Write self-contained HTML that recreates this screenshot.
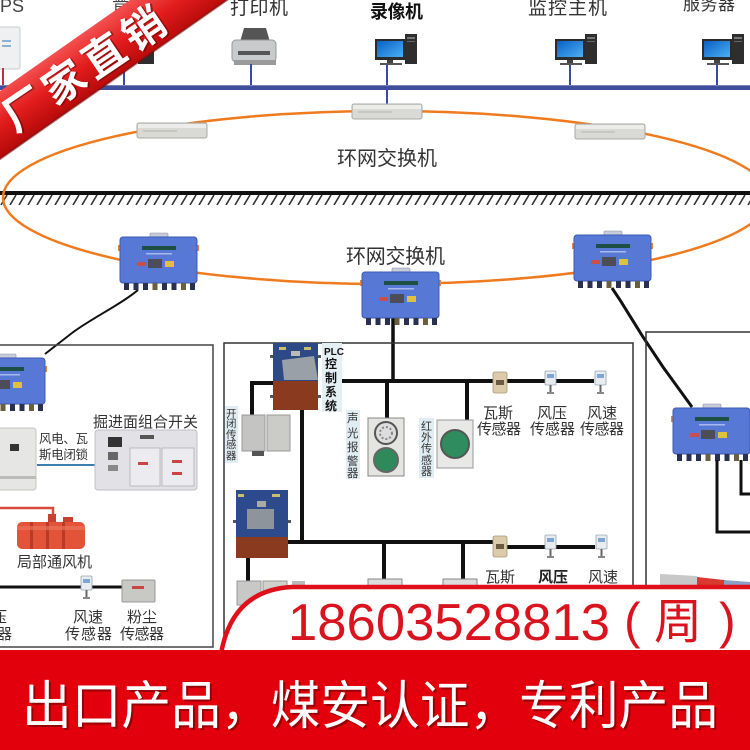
<!DOCTYPE html>
<html><head><meta charset="utf-8">
<style>
html,body{margin:0;padding:0;background:#fff;}
svg{display:block;}
text{font-family:"Liberation Sans","Noto Sans CJK SC",sans-serif;}
</style></head><body>
<svg width="750" height="750" viewBox="0 0 750 750" xmlns="http://www.w3.org/2000/svg">
<defs>
 <linearGradient id="scr" x1="0" y1="0" x2="1" y2="1"><stop offset="0" stop-color="#0b5fc4"/><stop offset="1" stop-color="#4ab0f5"/></linearGradient>
 <linearGradient id="rib" gradientUnits="userSpaceOnUse" x1="65" y1="45" x2="97" y2="92"><stop offset="0" stop-color="#f45050"/><stop offset="0.5" stop-color="#e21c1c"/><stop offset="1" stop-color="#b50a0a"/></linearGradient>
 <pattern id="hatch" x="0" y="195" width="9" height="10" patternUnits="userSpaceOnUse"><path d="M1,10 L7,0" stroke="#333" stroke-width="1.6"/></pattern>
 <g id="pc">
   <rect x="0" y="5" width="30" height="21" fill="#2b2b2b"/>
   <rect x="2" y="7" width="26" height="16" fill="url(#scr)"/>
   <rect x="12" y="26" width="6" height="3" fill="#444"/>
   <rect x="5" y="29" width="22" height="2" fill="#555"/>
   <rect x="30" y="0" width="12" height="30" fill="#2e2e2e"/>
   <rect x="32" y="3" width="8" height="2" fill="#777"/>
   <rect x="32" y="7" width="8" height="1" fill="#666"/>
 </g>
 <g id="sw">
   <rect x="0" y="0" width="70" height="15" rx="2" fill="#d9d9d5" stroke="#a9a9a5"/>
   <rect x="1" y="1" width="68" height="4" fill="#ececea"/>
   <line x1="6" y1="8" x2="40" y2="8" stroke="#b5b5b0" stroke-width="1"/>
 </g>
 <g id="bb">
   <rect x="30" y="-4" width="18" height="5" rx="1" fill="#c8ccd8" stroke="#8890a8" stroke-width="0.6"/>
   <rect x="-2" y="8" width="4" height="6" fill="#e08a40"/>
   <rect x="75" y="8" width="4" height="6" fill="#e08a40"/>
   <rect x="0" y="0" width="77" height="46" rx="3" fill="#5878d6" stroke="#3c58b4" stroke-width="1"/>
   <rect x="22" y="9" width="34" height="4" fill="#1d4f44"/>
   <rect x="26" y="16" width="26" height="1.5" fill="#a8b8ea"/>
   <rect x="17" y="25" width="9" height="4" fill="#c9504a"/>
   <rect x="28" y="22" width="14" height="9" fill="#4d4d5a"/>
   <rect x="45" y="24" width="9" height="6" fill="#e0c040"/>
   <rect x="4" y="46" width="5" height="7" fill="#2a3050"/>
   <rect x="13.5" y="46" width="5" height="7" fill="#2a3050"/>
   <rect x="23" y="46" width="5" height="7" fill="#2a3050"/>
   <rect x="32.5" y="46" width="5" height="7" fill="#6a6040"/>
   <rect x="42" y="46" width="5" height="7" fill="#2a3050"/>
   <rect x="51.5" y="46" width="5" height="7" fill="#2a3050"/>
   <rect x="61" y="46" width="5" height="7" fill="#6a6040"/>
   <rect x="70" y="46" width="5" height="7" fill="#2a3050"/>
 </g>
 <g id="ws">
   <rect x="0" y="0" width="11" height="14" rx="1" fill="#e8ecf0" stroke="#9aa4ae" stroke-width="0.8"/>
   <rect x="2" y="3" width="7" height="4" fill="#7fa6d0"/>
   <rect x="4.5" y="14" width="2" height="7" fill="#666"/>
   <rect x="2" y="21" width="7" height="2" fill="#888"/>
 </g>
 <g id="gs">
   <rect x="0" y="0" width="14" height="21" rx="2" fill="#dccbaa" stroke="#a89878" stroke-width="0.8"/>
   <rect x="3" y="8" width="8" height="5" fill="#6a5a40"/>
 </g>
</defs>

<rect width="750" height="750" fill="#fff"/>

<!-- top labels -->
<text x="-13" y="12" font-size="18" fill="#444">UPS</text>
<text x="112" y="9" font-size="17" fill="#444">普</text>
<text x="230" y="14" font-size="19" fill="#333" textLength="58">打印机</text>
<text x="370" y="18" font-size="18" font-weight="bold" fill="#111" textLength="53">录像机</text>
<text x="528" y="14" font-size="19" fill="#333" textLength="79">监控主机</text>
<text x="683" y="10" font-size="17" fill="#333" textLength="52">服务器</text>

<!-- UPS -->
<rect x="-4" y="27" width="24" height="42" rx="2" fill="#eef0f2" stroke="#c8ccd0"/>
<rect x="2" y="40" width="9" height="2" fill="#8ab0d8"/>
<rect x="2" y="45" width="9" height="2" fill="#8ab0d8"/>
<line x1="3" y1="68" x2="3" y2="87" stroke="#c03040" stroke-width="2"/>
<line x1="124" y1="66" x2="124" y2="87" stroke="#3a4aa8" stroke-width="2"/>
<rect x="138" y="48" width="16" height="16" fill="#2e2e2e"/>

<!-- printer -->
<polygon points="244,28 266,28 270,42 240,42" fill="#555"/>
<rect x="232" y="40" width="44" height="22" rx="4" fill="#c8cacc" stroke="#999"/>
<rect x="238" y="51" width="32" height="4" fill="#555"/>
<rect x="234" y="60" width="42" height="5" fill="#9a9a9a"/>

<!-- bus -->
<line x1="251" y1="64" x2="251" y2="87" stroke="#3a4aa8" stroke-width="2"/>
<line x1="387" y1="64" x2="387" y2="108" stroke="#3a4aa8" stroke-width="2"/>
<line x1="570" y1="64" x2="570" y2="87" stroke="#3a4aa8" stroke-width="2"/>
<line x1="717" y1="64" x2="717" y2="87" stroke="#3a4aa8" stroke-width="2"/>
<rect x="0" y="85" width="750" height="5" fill="#3f4f9e"/>
<rect x="0" y="85" width="750" height="1" fill="#7a86b8"/>

<use href="#pc" x="375" y="34"/>
<use href="#pc" x="555" y="34"/>
<use href="#pc" x="702" y="34"/>

<!-- ground -->
<rect x="0" y="191" width="750" height="4" fill="#111"/>
<rect x="0" y="195" width="750" height="10" fill="url(#hatch)"/>

<!-- ring -->
<ellipse cx="386" cy="197.5" rx="383" ry="86.5" fill="none" stroke="#f07a1e" stroke-width="2.5"/>

<use href="#sw" x="137" y="123"/>
<use href="#sw" x="352" y="104"/>
<use href="#sw" x="575" y="124"/>

<text x="337" y="165" font-size="20" fill="#333" textLength="100">环网交换机</text>
<text x="346" y="263" font-size="20" fill="#333" textLength="99">环网交换机</text>

<!-- connector lines -->
<path d="M138,290 C120,305 92,318 72,333 L45,354" fill="none" stroke="#111" stroke-width="2"/>
<line x1="393" y1="318" x2="393" y2="381" stroke="#111" stroke-width="3.5"/>
<polyline points="612,288 620,300 643,337 663,367 692,407" fill="none" stroke="#111" stroke-width="3"/>

<use href="#bb" x="120" y="237"/>
<use href="#bb" x="362" y="272"/>
<use href="#bb" x="574" y="235"/>

<!-- frames -->
<rect x="-2" y="345" width="215" height="302" fill="none" stroke="#444" stroke-width="1.5"/>
<path d="M224,660 V343 H633 V660" fill="none" stroke="#333" stroke-width="1.5"/>
<path d="M646,660 V332 H752" fill="none" stroke="#333" stroke-width="1.5"/>

<!-- left frame contents -->
<use href="#bb" x="-32" y="358"/>
<rect x="-4" y="428" width="40" height="62" rx="3" fill="#e6e6e4" stroke="#c4c4c0"/>
<rect x="10" y="444" width="9" height="7" fill="#333"/>
<rect x="-4" y="476" width="40" height="3" fill="#bbb"/>
<text x="93" y="427" font-size="15" fill="#333" textLength="105">掘进面组合开关</text>
<text x="39" y="443" font-size="12.5" fill="#333" textLength="49">风电、瓦</text>
<text x="39" y="459" font-size="12.5" fill="#333" textLength="49">斯电闭锁</text>
<line x1="37" y1="465" x2="97" y2="465" stroke="#3b7fae" stroke-width="2"/>
<rect x="95" y="430" width="102" height="60" rx="3" fill="#e2e2e6" stroke="#c0c0c4"/>
<rect x="108" y="437" width="14" height="10" fill="#333"/>
<rect x="108" y="452" width="10" height="8" fill="#666"/>
<rect x="108" y="465" width="10" height="6" fill="#888"/>
<rect x="130" y="448" width="30" height="38" fill="#ececf0" stroke="#bbb"/>
<rect x="162" y="448" width="32" height="38" fill="#ececf0" stroke="#bbb"/>
<rect x="138" y="462" width="10" height="3" fill="#c44"/>
<rect x="172" y="460" width="10" height="3" fill="#c44"/>
<rect x="172" y="472" width="10" height="3" fill="#c44"/>
<rect x="140" y="435" width="14" height="4" fill="#555"/>
<path d="M-2,508 H53 V521" fill="none" stroke="#d84a3a" stroke-width="2.5"/>
<rect x="48" y="514" width="8" height="10" fill="#c84030"/>
<rect x="63" y="517" width="10" height="7" fill="#c84030"/>
<rect x="17" y="522" width="68" height="27" rx="5" fill="#e2533a"/>
<rect x="30" y="522" width="3" height="27" fill="#b83a28"/>
<rect x="46" y="522" width="3" height="27" fill="#b83a28"/>
<rect x="62" y="522" width="3" height="27" fill="#b83a28"/>
<rect x="17" y="526" width="68" height="4" fill="#f07a60" opacity="0.6"/>
<text x="17" y="567" font-size="15" fill="#333" textLength="75">局部通风机</text>
<line x1="-2" y1="587" x2="122" y2="587" stroke="#111" stroke-width="3"/>
<use href="#ws" x="81" y="576"/>
<rect x="122" y="580" width="33" height="22" rx="1" fill="#c8c8c4" stroke="#999"/>
<rect x="132" y="586" width="12" height="3" fill="#c44"/>
<text x="-23" y="622" font-size="15" fill="#333">风压</text>
<text x="-33" y="639" font-size="15" fill="#333">传感器</text>
<text x="73" y="622" font-size="15" fill="#333">风速</text>
<text x="65" y="639" font-size="15" fill="#333" textLength="47">传感器</text>
<text x="127" y="622" font-size="15" fill="#333">粉尘</text>
<text x="120" y="639" font-size="15" fill="#333" textLength="44">传感器</text>

<!-- center frame contents -->
<line x1="342" y1="381" x2="493" y2="381" stroke="#111" stroke-width="4"/>
<line x1="507" y1="381" x2="545" y2="381" stroke="#111" stroke-width="4"/>
<line x1="556" y1="381" x2="594" y2="381" stroke="#111" stroke-width="4"/>
<line x1="387" y1="381" x2="387" y2="419" stroke="#111" stroke-width="4"/>
<line x1="467" y1="381" x2="467" y2="421" stroke="#111" stroke-width="4"/>
<path d="M252,417 V383 H274" fill="none" stroke="#111" stroke-width="4"/>
<line x1="302" y1="408" x2="302" y2="544" stroke="#111" stroke-width="4"/>
<line x1="288" y1="542" x2="495" y2="542" stroke="#111" stroke-width="4"/>
<line x1="507" y1="547" x2="545" y2="547" stroke="#111" stroke-width="4"/>
<line x1="556" y1="547" x2="595" y2="547" stroke="#111" stroke-width="4"/>
<line x1="384" y1="542" x2="384" y2="582" stroke="#111" stroke-width="4"/>
<line x1="463" y1="542" x2="463" y2="582" stroke="#111" stroke-width="4"/>
<line x1="248" y1="556" x2="248" y2="582" stroke="#111" stroke-width="4"/>

<!-- PLC 1 -->
<rect x="273" y="343" width="45" height="38" fill="#2e4a86"/>
<rect x="273" y="381" width="45" height="29" fill="#8a3a1e"/>
<rect x="279" y="347" width="7" height="3" fill="#c8c070"/>
<rect x="304" y="347" width="7" height="3" fill="#c8c070"/>
<polygon points="282,360 314,356 318,380 284,380" fill="#9aa0a8"/>
<rect x="291" y="351" width="9" height="5" fill="#bbb"/>
<rect x="270" y="355" width="3" height="3" fill="#555"/>
<rect x="270" y="395" width="3" height="3" fill="#555"/>
<rect x="318" y="355" width="3" height="3" fill="#555"/>
<rect x="318" y="395" width="3" height="3" fill="#555"/>
<rect x="322" y="343" width="20" height="69" fill="#e4eff4"/>
<text x="324" y="355" font-size="10" font-weight="bold" fill="#111">PLC</text>
<text x="325" y="368" font-size="12" font-weight="bold" fill="#111">控</text>
<text x="325" y="382" font-size="12" font-weight="bold" fill="#111">制</text>
<text x="325" y="396" font-size="12" font-weight="bold" fill="#111">系</text>
<text x="325" y="410" font-size="12" font-weight="bold" fill="#111">统</text>

<!-- 开闭传感器 -->
<rect x="225" y="406" width="13" height="57" fill="#e0eef4"/>
<text x="226" y="417" font-size="10.5" fill="#333">开</text>
<text x="226" y="427" font-size="10.5" fill="#333">闭</text>
<text x="226" y="438" font-size="10.5" fill="#333">传</text>
<text x="226" y="448" font-size="10.5" fill="#333">感</text>
<text x="226" y="459" font-size="10.5" fill="#333">器</text>
<rect x="242" y="415" width="23" height="36" fill="#c4c4c2" stroke="#999"/>
<rect x="267" y="415" width="23" height="36" fill="#cbcbc8" stroke="#999"/>
<rect x="252" y="451" width="12" height="5" fill="#555"/>

<!-- 声光报警器 -->
<rect x="346" y="410" width="14" height="69" fill="#e0eef4"/>
<text x="347" y="422" font-size="11.5" fill="#333">声</text>
<text x="347" y="437" font-size="11.5" fill="#333">光</text>
<text x="347" y="451" font-size="11.5" fill="#333">报</text>
<text x="347" y="465" font-size="11.5" fill="#333">警</text>
<text x="347" y="477" font-size="11.5" fill="#333">器</text>
<rect x="368" y="418" width="36" height="58" fill="#e4e4e0" stroke="#888"/>
<circle cx="386" cy="433" r="11" fill="#ddd" stroke="#555" stroke-width="2"/>
<circle cx="386" cy="433" r="6" fill="none" stroke="#888" stroke-width="2" stroke-dasharray="2 2"/>
<circle cx="386" cy="460" r="12" fill="#2e8a5a" stroke="#666" stroke-width="2"/>

<!-- 红外传感器 -->
<rect x="419" y="418" width="15" height="60" fill="#e0eef4"/>
<text x="421" y="430" font-size="11" fill="#333">红</text>
<text x="421" y="441" font-size="11" fill="#333">外</text>
<text x="421" y="452" font-size="11" fill="#333">传</text>
<text x="421" y="464" font-size="11" fill="#333">感</text>
<text x="421" y="475" font-size="11" fill="#333">器</text>
<rect x="437" y="420" width="36" height="48" fill="#e8e8e6" stroke="#999"/>
<circle cx="455" cy="444" r="14" fill="#2f8c5e" stroke="#555" stroke-width="2"/>

<!-- upper sensors -->
<use href="#gs" x="493" y="372"/>
<use href="#ws" x="545" y="371"/>
<use href="#ws" x="595" y="371"/>
<text x="483" y="418" font-size="15" fill="#333">瓦斯</text>
<text x="477" y="434" font-size="15" fill="#333" textLength="44">传感器</text>
<text x="537" y="418" font-size="15" fill="#333">风压</text>
<text x="530" y="434" font-size="15" fill="#333" textLength="45">传感器</text>
<text x="587" y="418" font-size="15" fill="#333">风速</text>
<text x="580" y="434" font-size="15" fill="#333" textLength="44">传感器</text>

<!-- PLC 2 -->
<rect x="236" y="490" width="52" height="47" fill="#2d4a8c"/>
<rect x="236" y="537" width="52" height="21" fill="#8a3a1e"/>
<rect x="238" y="494" width="6" height="3" fill="#c8c070"/>
<rect x="272" y="494" width="8" height="3" fill="#c8c070"/>
<rect x="257" y="501" width="9" height="6" fill="#aaa"/>
<rect x="247" y="509" width="27" height="20" fill="#8e949c"/>
<rect x="233" y="520" width="3" height="3" fill="#555"/>
<rect x="288" y="520" width="3" height="3" fill="#555"/>

<!-- lower sensors -->
<use href="#gs" x="493" y="536"/>
<use href="#ws" x="545" y="535"/>
<use href="#ws" x="596" y="535"/>
<text x="485" y="582" font-size="15" fill="#333">瓦斯</text>
<text x="538" y="582" font-size="15" font-weight="bold" fill="#222">风压</text>
<text x="588" y="582" font-size="15" fill="#333">风速</text>

<!-- bottom devices -->
<rect x="237" y="581" width="24" height="24" fill="#c8c8c6" stroke="#999"/>
<rect x="263" y="581" width="24" height="24" fill="#d0d0cc" stroke="#999"/>
<rect x="292" y="581" width="13" height="7" fill="#bbb"/>
<rect x="368" y="579" width="34" height="12" fill="#ddd" stroke="#888"/>
<rect x="443" y="579" width="34" height="12" fill="#ddd" stroke="#888"/>

<!-- right frame -->
<use href="#bb" x="673" y="408"/>
<path d="M717,460 V532 H752" fill="none" stroke="#111" stroke-width="3"/>
<path d="M741,460 V494 H752" fill="none" stroke="#111" stroke-width="3"/>
<polygon points="660,574 697,576 697,590 660,590" fill="#c8c8c8"/>
<polygon points="697,577 724,580 724,590 697,590" fill="#d83a30"/>
<polygon points="724,580 750,582 750,590 724,590" fill="#8aa0c8"/>

<!-- phone tab -->
<path d="M221,654 Q232,590 292,587 L754,587 L754,654 Z" fill="#fff" stroke="#e0101a" stroke-width="4.5"/>
<text x="288" y="640" font-size="52" fill="#d9141e" textLength="322" lengthAdjust="spacingAndGlyphs">18603528813</text>
<text x="624" y="638" font-size="50" fill="#d9141e">(</text>
<text x="654" y="638" font-size="48" fill="#d9141e">周</text>
<text x="719" y="638" font-size="50" fill="#d9141e">)</text>

<!-- bottom bar -->
<rect x="0" y="650" width="750" height="100" fill="#e2000c"/>
<text x="24" y="726" font-size="52" fill="#5a0000" opacity="0.55" textLength="696" lengthAdjust="spacingAndGlyphs">出口产品，煤安认证，专利产品</text>
<text x="22" y="724" font-size="52" fill="#fff" textLength="696" lengthAdjust="spacingAndGlyphs">出口产品，煤安认证，专利产品</text>

<!-- corner ribbon -->
<polygon points="-20,105 150,-14 247,-14 -20,173" fill="url(#rib)"/>
<line x1="-20" y1="173" x2="247" y2="-14" stroke="#7a0c0c" stroke-width="2" opacity="0.6"/>
<g transform="translate(84,69) rotate(-34)">
  <text x="1.5" y="16.5" font-size="42" font-weight="bold" fill="#500" opacity="0.5" text-anchor="middle" textLength="186" lengthAdjust="spacing">厂家直销</text>
  <text x="0" y="15" font-size="42" font-weight="bold" fill="#fff" text-anchor="middle" textLength="186" lengthAdjust="spacing">厂家直销</text>
</g>
</svg>
</body></html>
